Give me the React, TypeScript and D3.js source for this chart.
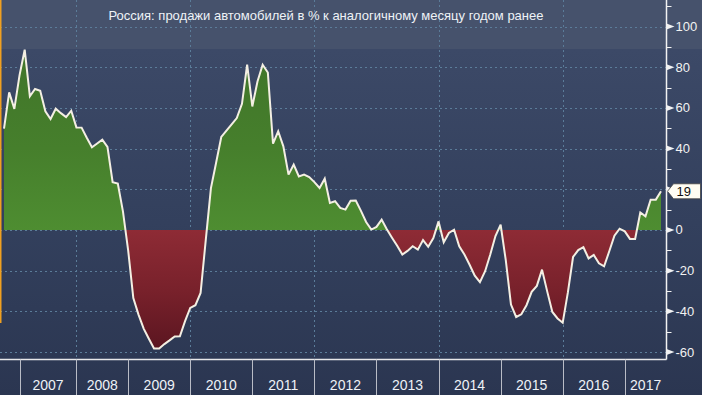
import React from "react";
import * as d3 from "d3";

// Observations (monthly, Bloomberg drops some months in 2007/2008)
const yearLabels = ["2006", "2007", "2008", "2009", "2010", "2011", "2012", "2013", "2014", "2015", "2016", "2017"];
const obsPerYear = [4, 11, 10, 12, 12, 12, 12, 12, 12, 12, 12, 7];

// % change vs same month a year earlier
const salesYoY = [
  49.8, 67.6, 59.5, 76,
  88.6, 65.7, 69.3, 68.4, 58.3, 54.5, 59.6, 57.4, 55.5, 58.6, 50.4,
  50.3, 45.3, 40.6, 42.5, 44.4, 40.8, 23.5, 22.8, 9, -10,
  -33.5, -41.6, -48.5, -53.5, -58.3, -58.3, -56.1, -54.3, -52.4, -52.3, -44.8, -38.3,
  -37, -31, -5, 20.6, 33, 45.7, 48.8, 51.9, 55, 62, 81.2, 60.7,
  73, 81.2, 77.4, 42.4, 48.5, 41.1, 27.2, 32.1, 26.3, 27.2, 26, 23.5,
  20.6, 25.2, 13.3, 14.1, 10.8, 10, 14.4, 14.5, 9.4, 3.9, 0.2, 1.5,
  5.1, 0.3, -3.8, -7.8, -12.1, -10.3, -8, -9.7, -5, -8.3, -4, 4.2,
  -6.1, -1.5, 0.1, -8, -12.1, -17.1, -22.5, -25.7, -20.3, -12.1, -3, 2.6,
  -15, -36.7, -42.8, -41.5, -37, -30.4, -27.5, -19.5, -30.2, -40.3, -43.5, -45.6,
  -30.7, -13.3, -9.9, -8.5, -14, -12.3, -16.4, -17.9, -10.5, -2.8, 0.6, -0.7,
  -4.4, -4.4, 8.6, 6.7, 14.9, 14.9, 19,
];

const yMajorTicks = [100, 80, 60, 40, 20, 0, -20, -40, -60];
const yMinorTicks = [110, 90, 70, 50, 30, 10, -10, -30, -50];
const title = "Россия: продажи автомобилей в % к аналогичному месяцу годом ранее";

const W = 702;
const H = 395;
const plotRight = 666.5;
const axisY = 359.5;

export default function App() {
  const x = d3.scaleLinear().domain([0, salesYoY.length - 1]).range([4, 661]);
  const y = d3.scaleLinear().domain([-60, 100]).range([352, 26.5]);
  const y0 = y(0);

  const area = d3
    .area<number>()
    .x((_, i) => x(i))
    .y0(y0)
    .y1((d) => y(d));
  const line = d3
    .line<number>()
    .x((_, i) => x(i))
    .y((d) => y(d));

  // year segments
  const cum = d3.cumsum(obsPerYear);
  const segments = yearLabels.map((lab, i) => {
    const start = i === 0 ? 0 : x(cum[i - 1] - 1);
    const end = i === yearLabels.length - 1 ? plotRight : x(cum[i] - 1);
    return { lab, start, end };
  });

  const last = salesYoY[salesYoY.length - 1];
  const ly = y(last);

  const font = "'Liberation Sans', Arial, sans-serif";

  return (
    <div style={{ position: "absolute", left: 0, top: 0 }}>
      <svg width={W} height={H} style={{ display: "block" }}>
        <defs>
          <linearGradient id="bg" gradientUnits="userSpaceOnUse" x1="0" y1="49" x2="0" y2={H}>
            <stop offset="0" stopColor="#3c4967" />
            <stop offset="0.5" stopColor="#33405d" />
            <stop offset="1" stopColor="#2b3651" />
          </linearGradient>
          <linearGradient id="green" gradientUnits="userSpaceOnUse" x1="0" y1={y(100)} x2="0" y2={y0}>
            <stop offset="0" stopColor="#3f7229" />
            <stop offset="0.6" stopColor="#467f2c" />
            <stop offset="1" stopColor="#4e8d31" />
          </linearGradient>
          <linearGradient id="red" gradientUnits="userSpaceOnUse" x1="0" y1={y0} x2="0" y2={y(-60)}>
            <stop offset="0" stopColor="#8e2b35" />
            <stop offset="0.5" stopColor="#78212b" />
            <stop offset="1" stopColor="#5a1520" />
          </linearGradient>
          <clipPath id="above">
            <rect x={0} y={0} width={plotRight} height={y0} />
          </clipPath>
          <clipPath id="below">
            <rect x={0} y={y0} width={plotRight} height={H - y0} />
          </clipPath>
        </defs>

        {/* background */}
        <rect x={0} y={0} width={W} height={H} fill="url(#bg)" />
        <rect x={0} y={0} width={W} height={49} fill="#46526c" />

        {/* gridlines */}
        {yMajorTicks.map((t) => (
          <line
            key={"hg" + t}
            x1={0}
            x2={plotRight}
            y1={Math.round(y(t)) + 0.5}
            y2={Math.round(y(t)) + 0.5}
            stroke="#5b7c99"
            strokeDasharray="2,3"
            strokeWidth={1}
          />
        ))}
        {segments
          .filter((s, i) => i > 0 && +s.lab % 2 === 0)
          .map((s) => (
            <line
              key={"vg" + s.lab}
              x1={Math.round(s.start) + 0.5}
              x2={Math.round(s.start) + 0.5}
              y1={0}
              y2={axisY}
              stroke="#5b7c99"
              strokeDasharray="2,3"
              strokeWidth={1}
            />
          ))}

        {/* areas */}
        <path d={area(salesYoY) || ""} fill="url(#green)" clipPath="url(#above)" />
        <path d={area(salesYoY) || ""} fill="url(#red)" clipPath="url(#below)" />
        <path
          d={line(salesYoY) || ""}
          fill="none"
          stroke="#f4efe3"
          strokeWidth={2}
          strokeLinejoin="miter"
          strokeMiterlimit={3}
        />

        {/* left orange edge */}
        <rect x={0} y={0} width={1.5} height={323} fill="#f0a020" />

        {/* title */}
        <text
          x={326}
          y={20}
          textAnchor="middle"
          fill="#eef2f7"
          fontFamily={font}
          fontSize={13}
        >
          {title}
        </text>

        {/* bottom axis */}
        <line x1={0} x2={plotRight} y1={axisY} y2={axisY} stroke="#e8e8ea" strokeWidth={1.5} />
        {segments.slice(1).map((s) => (
          <line
            key={"bt" + s.lab}
            x1={Math.round(s.start) + 0.5}
            x2={Math.round(s.start) + 0.5}
            y1={axisY}
            y2={H}
            stroke="#b9bcc6"
            strokeWidth={1}
          />
        ))}
        {segments
          .filter((s) => s.end - s.start > 30)
          .map((s) => (
            <text
              key={"bl" + s.lab}
              x={(s.start + s.end) / 2}
              y={390}
              textAnchor="middle"
              fill="#eef2f7"
              fontFamily={font}
              fontSize={14}
            >
              {s.lab}
            </text>
          ))}

        {/* right axis */}
        <line x1={plotRight} x2={plotRight} y1={0} y2={axisY} stroke="#f2f2f2" strokeWidth={1.5} />
        {yMinorTicks.map((t) => (
          <line
            key={"mt" + t}
            x1={plotRight}
            x2={plotRight + 5}
            y1={Math.round(y(t)) + 0.5}
            y2={Math.round(y(t)) + 0.5}
            stroke="#f2f2f2"
            strokeWidth={1}
          />
        ))}
        {yMajorTicks.map((t) => (
          <g key={"yt" + t}>
            <path
              d={`M${plotRight},${y(t) - 3}L${plotRight + 8},${y(t)}L${plotRight},${y(t) + 3}Z`}
              fill="#f2f2f2"
            />
            {Math.abs(y(t) - ly) > 14 && (
              <text
                x={plotRight + 9}
                y={y(t) + 4.5}
                fill="#f2f2f2"
                fontFamily={font}
                fontSize={13}
              >
                {t}
              </text>
            )}
          </g>
        ))}

        {/* last value badge */}
        <path
          d={`M${plotRight + 1},${ly}L${plotRight + 7},${ly - 7.5}L700.5,${ly - 7.5}L700.5,${ly + 7.5}L${plotRight + 7},${ly + 7.5}Z`}
          fill="#fffdf3"
          stroke="#444"
          strokeWidth={0.8}
        />
        <text x={plotRight + 10} y={ly + 4.5} fill="#111" fontFamily={font} fontSize={13}>
          {last}
        </text>
      </svg>
    </div>
  );
}
